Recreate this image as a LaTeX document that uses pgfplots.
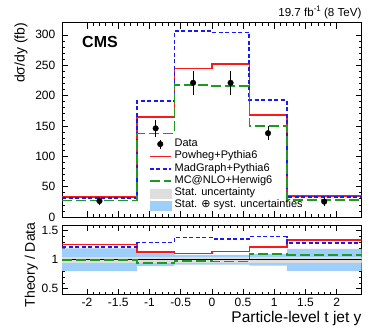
\documentclass[border=0pt]{standalone}
\usepackage{fontspec}
\setmainfont{Liberation Sans}
\newfontfamily\dejavu{DejaVu Sans}
\usepackage{pgfplots}
\pgfplotsset{compat=1.18}

\definecolor{phred}{RGB}{250,25,25}
\definecolor{mgblue}{RGB}{25,25,245}
\definecolor{mcgreen}{RGB}{30,155,30}
\definecolor{statgray}{RGB}{222,222,222}
\definecolor{systblue}{RGB}{158,206,250}

\pgfplotsset{
  cmsframe/.style={
    scale only axis, width=299.7pt,
    xmin=-2.4, xmax=2.4,
    axis line style={line width=0.8pt},
    tick align=inside,
    major tick length=6pt, minor tick length=3pt,
    tick style={black, line width=0.6pt},
    minor x tick num=4, minor y tick num=4,
    xtick={-2,-1.5,-1,-0.5,0,0.5,1,1.5,2},
    tick label style={font=\fontsize{12}{12}\selectfont},
    /pgf/number format/assume math mode=true,
    legend image code/.code={\draw[#1] (0pt,0pt) -- (21pt,0pt);},
  },
  ph/.style={phred, line width=1.6pt},
  mg/.style={mgblue, line width=1.7pt, dash pattern=on 4pt off 2.5pt},
  mc/.style={mcgreen, line width=1.6pt, dash pattern=on 10pt off 4pt},
  boxlegend/.style={legend image code/.code={\fill[##1] (0pt,-4.5pt) rectangle (21pt,4.5pt);}},
}

\begin{document}
\begin{tikzpicture}

% upper panel
\begin{axis}[cmsframe, name=top,
  at={(62pt,-22.7pt)}, anchor=north west, height=194.3pt,
  ymin=0, ymax=320, ytick={0,50,...,300}, xticklabels={},
  yticklabel style={inner sep=0pt, xshift=-6.5pt},
  ylabel={dσ/dy (fb)},
  ylabel style={at={(axis description cs:-0.137,1.0)}, anchor=east, inner sep=0pt,
    font=\fontsize{14}{14}\selectfont},
  legend style={at={(0.290,0.407)}, anchor=north west, draw=none, fill=none,
    inner sep=0pt, outer sep=0pt, row sep=0pt,
    font=\fontsize{11}{12.3}\selectfont,
    nodes={inner sep=0pt, text height=8.5pt, text depth=3.8pt},
    /tikz/every odd column/.append style={column sep=3pt}},
  legend cell align=left,
]
\addlegendimage{legend image code/.code={
  \draw[black,line width=0.8pt] (10.5pt,-4.5pt) -- (10.5pt,4.5pt);
  \fill[black] (10.5pt,0pt) circle (2.8pt);}}
\addlegendimage{ph}
\addlegendimage{mg}
\addlegendimage{mc}
\addlegendimage{boxlegend, statgray}
\addlegendimage{boxlegend, systblue}

% Powheg+Pythia6
\addplot[ph, const plot, forget plot] coordinates {
  (-2.4,33.4) (-1.2,165) (-0.6,244.5) (0,252.3) (0.6,168) (1.2,34.5) (2.4,34.5)};
% MadGraph+Pythia6
\addplot[mg, const plot, forget plot] coordinates {
  (-2.4,31.8) (-1.2,191) (-0.6,306.6) (0,304) (0.6,192.5) (1.2,33) (2.4,33)};
% MC@NLO+Herwig6
\addplot[mc, const plot, forget plot] coordinates {
  (-2.4,27) (-1.2,137.5) (-0.6,217.5) (0,215.5) (0.6,150) (1.2,28) (2.4,28)};

% data, total uncertainty
\addplot[forget plot, only marks, black, mark=*, mark size=0pt,
  error bars/.cd, y dir=both, y explicit, error mark=none,
  error bar style={line width=0.8pt}] coordinates {
  (-1.8,26.3) +- (0,5) (-0.9,146) +- (0,14.5) (-0.3,221) +- (0,19.5)
  (0.3,221) +- (0,19.5) (0.9,138) +- (0,12) (1.8,25.3) +- (0,5)};
% data, stat uncertainty
\addplot[forget plot, only marks, black, mark=*, mark size=2.8pt,
  error bars/.cd, y dir=both, y explicit, error mark=-,
  error mark options={black, mark size=3.5pt, line width=0.8pt},
  error bar style={line width=0.8pt}] coordinates {
  (-1.8,26.3) +- (0,1.5) (-0.9,146) +- (0,8.7) (-0.3,221) +- (0,11.5)
  (0.3,221) +- (0,11.5) (0.9,138) +- (0,6) (1.8,25.3) +- (0,1.5)};

\legend{Data, Powheg+Pythia6, MadGraph+Pythia6, MC@NLO+Herwig6,
  Stat. uncertainty, Stat. {\dejavu ⊕} syst. uncertainties}
\end{axis}

\node[anchor=base east, inner sep=0pt, font=\fontsize{11.6}{12}\selectfont]
  at ([yshift=6.5pt]top.north east) {19.7 fb\raisebox{0.42em}{\fontsize{8}{8}\selectfont -1} (8 TeV)};
\node[anchor=west, inner sep=0pt, font=\fontsize{16}{16}\selectfont\bfseries]
  at ([xshift=20pt,yshift=-19pt]top.north west) {CMS};

% ratio panel
\begin{axis}[cmsframe, name=bot,
  at={(62pt,-225pt)}, anchor=north west, height=69.5pt,
  ymin=0.4, ymax=1.6, ytick={0.5,1,1.5},
  yticklabel style={inner sep=0pt, xshift=-3.5pt},
  xticklabel style={inner sep=0pt, yshift=-3.5pt},
  xticklabels={-2,-1.5,-1,-0.5,0,0.5,1,1.5,2},
  xlabel={Particle-level t jet y},
  xlabel style={at={(axis description cs:1,-0.40)}, anchor=base east, inner sep=0pt,
    font=\fontsize{15.5}{16}\selectfont},
  ylabel={Theory / Data},
  ylabel style={at={(axis description cs:-0.103,1.04)}, anchor=east, inner sep=0pt,
    font=\fontsize{14}{14}\selectfont},
]
% stat (+) syst band
\addplot[fill=systblue, draw=none] coordinates {
  (-2.4,1.195) (-1.2,1.195) (-1.2,1.11) (-0.6,1.11) (-0.6,1.085) (0.6,1.085)
  (0.6,1.10) (1.2,1.10) (1.2,1.19) (2.4,1.19)
  (2.4,0.81) (1.2,0.81) (1.2,0.90) (0.6,0.90) (0.6,0.915) (-0.6,0.915)
  (-0.6,0.89) (-1.2,0.89) (-1.2,0.805) (-2.4,0.805)};
% stat band
\addplot[fill=statgray, draw=none] coordinates {
  (-2.4,1.055) (2.4,1.055) (2.4,0.945) (-2.4,0.945)};

\addplot[black, line width=0.8pt] coordinates {(-2.4,1) (2.4,1)};

\addplot[ph, const plot] coordinates {
  (-2.4,1.265) (-1.2,1.13) (-0.6,1.105) (0,1.14) (0.6,1.22) (1.2,1.34) (2.4,1.34)};
\addplot[mg, const plot] coordinates {
  (-2.4,1.225) (-1.2,1.30) (-0.6,1.385) (0,1.36) (0.6,1.40) (1.2,1.285) (2.4,1.285)};
\addplot[mc, const plot] coordinates {
  (-2.4,1.0) (-1.2,0.94) (-0.6,0.98) (0,0.97) (0.6,1.095) (1.2,1.08) (2.4,1.08)};
\end{axis}
\path (0,0) (390pt,-335pt);
\end{tikzpicture}
\end{document}
